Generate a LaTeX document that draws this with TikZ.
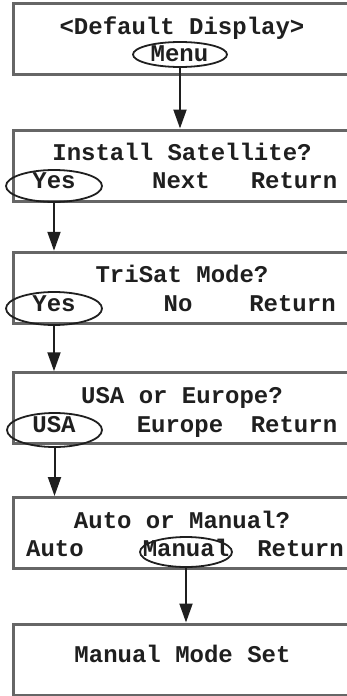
\documentclass[tikz,border=0pt]{standalone}
\usepackage{fontspec}
\setmonofont{Liberation Mono}
\usetikzlibrary{arrows.meta,shapes.geometric}
\definecolor{boxgray}{gray}{0.4}
\definecolor{ink}{gray}{0.12}
\begin{document}
\begin{tikzpicture}[x=1pt,y=-1pt,
  screen/.style={draw=boxgray,line width=3pt,minimum width=348.5pt,minimum height=71pt,inner sep=0pt},
  lbl/.style={font=\ttfamily\bfseries\fontsize{24}{24}\selectfont,anchor=base,inner sep=0pt,text=ink},
  sel/.style={ellipse,draw=ink,line width=1.8pt,inner sep=0pt},
  arr/.style={line width=2pt,draw=ink,-{Triangle[length=19pt,width=13pt]}}]
\useasboundingbox (0,0) rectangle (347,696);
\clip (0,0) rectangle (347,696);
% screens
\node[screen] (b1) at (187.75,38.5) {};
\node[screen] (b2) at (187.75,165.5) {};
\node[screen] (b3) at (187.75,287.75) {};
\node[screen] (b4) at (187.75,408.25) {};
\node[screen] (b5) at (187.75,533) {};
\node[screen] (b6) at (187.75,659.5) {};
% selection ellipses
\node[sel,minimum width=94pt,minimum height=25pt] (e1) at (180,54.5) {};
\node[sel,minimum width=96pt,minimum height=32pt] (e2) at (54,186) {};
\node[sel,minimum width=96pt,minimum height=33pt] (e3) at (54,308.5) {};
\node[sel,minimum width=95pt,minimum height=34pt] (e4) at (54.5,430) {};
\node[sel,minimum width=92pt,minimum height=30pt] (e5) at (186,552) {};
% texts
\node[lbl] (t1) at (182,34) {<Default Display>};
\node[lbl] (t1a) at (179.5,61) {Menu};
\node[lbl] (t2) at (182,160) {Install Satellite?};
\node[lbl] (t2a) at (54,188) {Yes};
\node[lbl] (t2b) at (181,188) {Next};
\node[lbl] (t2c) at (294,188) {Return};
\node[lbl] (t3) at (182,282) {TriSat Mode?};
\node[lbl] (t3a) at (54,311) {Yes};
\node[lbl] (t3b) at (178,311) {No};
\node[lbl] (t3c) at (292.5,311) {Return};
\node[lbl] (t4) at (182,403) {USA or Europe?};
\node[lbl] (t4a) at (54,432) {USA};
\node[lbl] (t4b) at (180,432) {Europe};
\node[lbl] (t4c) at (294,432) {Return};
\node[lbl] (t5) at (182,528) {Auto or Manual?};
\node[lbl] (t5a) at (55,556) {Auto};
\node[lbl] (t5b) at (186,556) {Manual};
\node[lbl] (t5c) at (300.5,556) {Return};
\node[lbl] (t6) at (182.5,662) {Manual Mode Set};
% connectors
\draw[arr] (e1.south) -- (e1.south |- b2.north);
\draw[arr] (e2.south) -- (e2.south |- b3.north);
\draw[arr] (e3.south) -- (e3.south |- b4.north);
\draw[arr] (e4.south) -- (e4.south |- b5.north);
\draw[arr] (e5.south) -- (e5.south |- b6.north);
\end{tikzpicture}
\end{document}
